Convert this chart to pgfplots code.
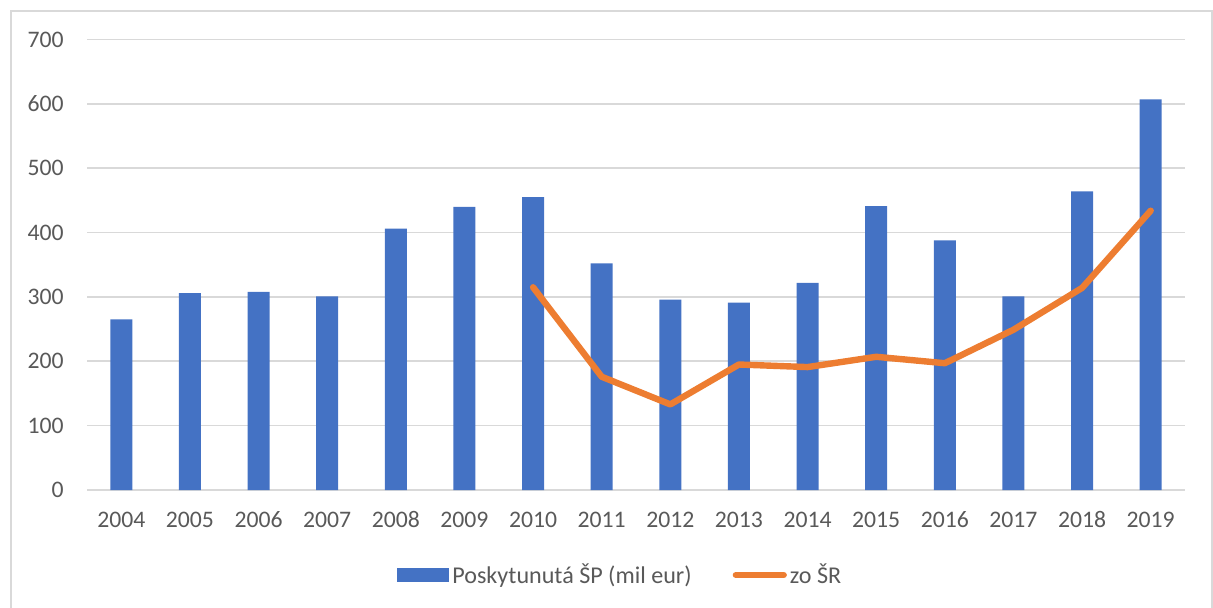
\documentclass[border=0pt]{standalone}
\usepackage{pgfplots}
\pgfplotsset{compat=1.18}
\usepackage{fontspec}
\setmainfont{Carlito}
\definecolor{barblue}{HTML}{4472C4}
\definecolor{lineorange}{HTML}{ED7D31}
\definecolor{gridgray}{HTML}{D9D9D9}
\definecolor{txtgray}{HTML}{595959}
\definecolor{framegray}{HTML}{D9D9D9}
\begin{document}
\begin{tikzpicture}
\fontsize{11.85}{14}\selectfont
\path[use as bounding box] (0,0) rectangle (606.5pt,-304pt);
\draw[framegray, line width=0.75pt] (5.5pt,-304pt) -- (5.5pt,-5.5pt) -- (606pt,-5.5pt) -- (606pt,-304pt);
\begin{axis}[
  at={(43.5pt,-245pt)}, anchor=south west,
  scale only axis, width=549pt, height=225.25pt,
  xmin=-0.5, xmax=15.5, ymin=0, ymax=700,
  ytick={0,100,...,700},
  xtick={0,...,15},
  xticklabels={2004,2005,2006,2007,2008,2009,2010,2011,2012,2013,2014,2015,2016,2017,2018,2019},
  axis line style={draw=none},
  major tick length=0pt,
  ymajorgrids, grid style={gridgray, line width=0.8pt},
  tick label style={text=txtgray, font=\fontsize{11.85}{14}\selectfont},
  /pgf/number format/assume math mode=true,
  yticklabel style={anchor=east, inner sep=0pt, xshift=-11.5pt},
  xticklabel style={anchor=base, inner sep=0pt, yshift=-18.75pt},
  legend columns=2,
  legend style={draw=none, fill=none, at={(0.2823,-0.1887)}, anchor=west, inner sep=0pt,
    font=\fontsize{12.05}{14}\selectfont, text=txtgray,
    nodes={inner sep=1.5pt},
    /tikz/every even column/.append style={column sep=19pt}},
]
\addplot[ybar, bar width=11pt, fill=barblue, draw=none,
  legend image code/.code={\fill[barblue] (0pt,-3.5pt) rectangle (26pt,3.5pt);}]
  coordinates {(0,265) (1,306) (2,308) (3,301) (4,406) (5,440) (6,455) (7,352) (8,296) (9,291) (10,322) (11,441) (12,388) (13,301) (14,464) (15,607)};
\addlegendentry{Poskytunutá ŠP (mil eur)}
\addplot[lineorange, line width=3.2pt, line cap=round, line join=round, mark=none,
  legend image code/.code={\draw[lineorange, line width=3.2pt, line cap=round] (1.6pt,0pt) -- (25.5pt,0pt);}]
  coordinates {(6,315) (7,176) (8,133) (9,195) (10,191) (11,207) (12,197) (13,249) (14,314) (15,434)};
\addlegendentry{zo ŠR}
\end{axis}
\end{tikzpicture}
\end{document}
